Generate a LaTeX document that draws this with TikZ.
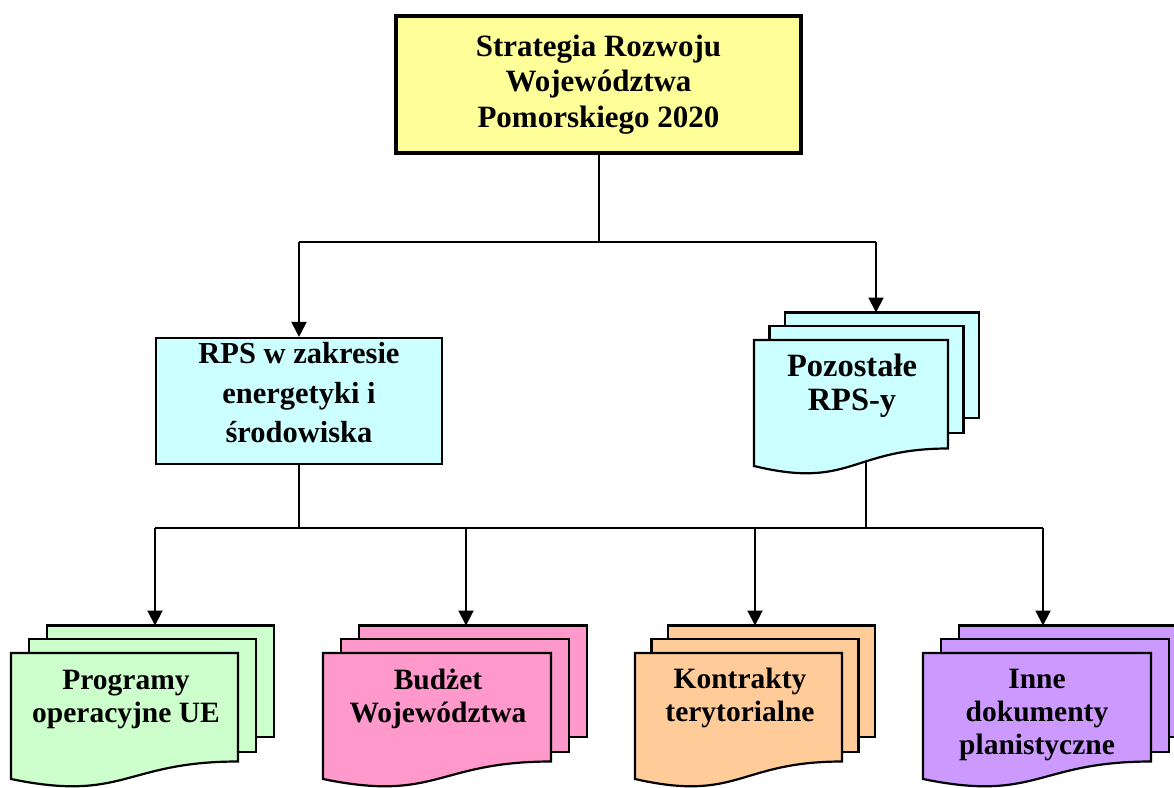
\documentclass[tikz,border=0pt]{standalone}
\usepackage{fontspec}
\setmainfont{Liberation Serif}
\usetikzlibrary{arrows.meta,calc}
\definecolor{cYel}{HTML}{FFFF99}
\definecolor{cCyan}{HTML}{CCFFFF}
\definecolor{cGreen}{HTML}{CCFFCC}
\definecolor{cPink}{HTML}{FF99CC}
\definecolor{cOrange}{HTML}{FFCC99}
\definecolor{cPurple}{HTML}{CC99FF}
\tikzset{
  conn/.style={line width=2pt, draw=black},
  arr/.style={conn, -{Triangle[width=15pt,length=15pt]}},
  boxline/.style={draw=black, line width=2.2pt, line join=miter},
  lbl/.style={font=\bfseries\fontsize{29.5}{33}\selectfont, align=center, inner sep=0pt},
}
% #1 name, #2 x, #3 y (front top), #4 width, #5 colour, #6 step, #7 middle bottom, #8 back bottom
\newcommand\drawmdoc[8]{%
  \draw[boxline, fill=#5] (#2+2*#6, #3-27.5) rectangle (#2+#4+2*#6, #3+#8);
  \draw[boxline, fill=#5] (#2+#6, #3-14) rectangle (#2+#4+#6, #3+#7);
  \draw[boxline, fill=#5] (#2,#3) -- (#2+#4,#3) -- (#2+#4,#3+108.5)
     .. controls (#2+0.5*#4,#3+108.5) and (#2+0.5*#4,#3+149.5) .. (#2,#3+126) -- cycle;
  \coordinate (#1-top) at (#2+0.5*#4+2*#6, #3-27.5);
}
\begin{document}
\begin{tikzpicture}[x=1pt, y=-1pt]
\useasboundingbox[fill=white] (0,0) rectangle (1174,787);

% top box
\node[draw=black, line width=4pt, fill=cYel, minimum width=405pt, minimum height=137pt,
      inner sep=0pt, align=center, font=\bfseries\fontsize{31}{35.5}\selectfont]
      (top) at (598.5,84.5) {Strategia Rozwoju\\Województwa\\Pomorskiego 2020};

% RPS box
\node[boxline, fill=cCyan, minimum width=286pt, minimum height=126pt, inner sep=0pt]
      (rps) at (299,401) {};
\node[lbl, font=\bfseries\fontsize{30.5}{39.5}\selectfont] (rpstxt) at (299,393)
      {RPS w zakresie\\energetyki i\\środowiska};

% Pozostale RPS-y
\drawmdoc{poz}{754}{340}{194}{cCyan}{15.5}{93}{78}
\coordinate (poz-bot) at (866,462);
\node[lbl, font=\bfseries\fontsize{32.5}{34}\selectfont] (poztxt) at (852,385.5) {Pozostałe\\RPS-y};

% bottom documents
\drawmdoc{prog}{11}{653}{227}{cGreen}{18}{99}{84}
\drawmdoc{bud}{323}{653}{228}{cPink}{18}{99}{84}
\drawmdoc{kon}{635}{653}{207}{cOrange}{16.5}{99}{84}
\drawmdoc{inne}{923}{653}{228}{cPurple}{18}{99}{84}

\node[lbl] (progtxt) at (126,699.5) {Programy\\operacyjne UE};
\node[lbl] (budtxt) at (438,698.5) {Budżet\\Województwa};
\node[lbl] (kontxt) at (740,698) {Kontrakty\\terytorialne};
\node[lbl] (innetxt) at (1037,715.5) {Inne\\dokumenty\\planistyczne};

% connectors, upper level
\coordinate (jtop) at (598.5,242);
\coordinate (jl) at (299,242);
\coordinate (jr) at (876,242);
\draw[conn] (top.south) -- (jtop);
\draw[conn] (jl) -- (jr);
\draw[arr] (jl) -- (jl |- rps.north);
\draw[arr] (jr) -- (jr |- poz-top);

% connectors, lower level
\coordinate (bl) at (299,528);
\coordinate (br) at (866,528);
\coordinate (b1) at (155,528);
\coordinate (b2) at (466,528);
\coordinate (b3) at (755,528);
\coordinate (b4) at (1043,528);
\draw[conn] (rps.south) -- (bl);
\draw[conn] (poz-bot) -- (br);
\draw[conn] (b1) -- (b4);
\draw[arr] (b1) -- (b1 |- prog-top);
\draw[arr] (b2) -- (b2 |- bud-top);
\draw[arr] (b3) -- (b3 |- kon-top);
\draw[arr] (b4) -- (b4 |- inne-top);
\end{tikzpicture}
\end{document}
